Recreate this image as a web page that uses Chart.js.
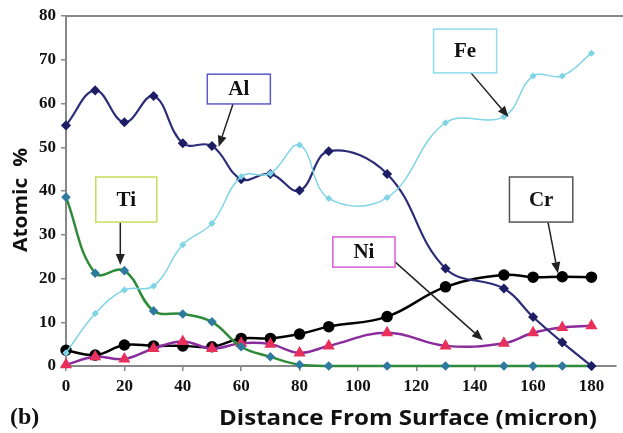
<!DOCTYPE html>
<html>
<head>
<meta charset="utf-8">
<script src="https://cdn.jsdelivr.net/npm/chart.js@4.4.0/dist/chart.umd.min.js"></script>
<style>
  html, body { margin: 0; padding: 0; background: #fff; }
  #wrap { width: 623px; height: 433px; position: relative; }
</style>
</head>
<body>
<div id="wrap"><canvas id="chart"></canvas></div>
<script>
// Distance from surface (micron) and atomic % of each element
const distance = [0, 10, 20, 30, 40, 50, 60, 70, 80, 90, 110, 130, 150, 160, 170, 180];
const al = [55, 63, 55.7, 61.7, 50.9, 50.3, 42.7, 43.9, 40.1, 49.1, 43.9, 22.3, 17.7, 11.2, 5.4, 0];
const fe = [3, 12, 17.4, 18.3, 27.7, 32.6, 43.3, 44, 50.5, 38.3, 38.5, 55.6, 57, 66.3, 66.3, 71.5];
const ti = [38.6, 21.2, 21.8, 12.6, 11.9, 10.1, 4.4, 2.1, 0.3, 0, 0, 0, 0, 0, 0, 0];
const cr = [3.6, 2.5, 4.8, 4.6, 4.6, 4.4, 6.3, 6.3, 7.3, 9.0, 11.3, 18.1, 20.8, 20.3, 20.4, 20.3];
const ni = [0.3, 2.1, 1.6, 4.0, 5.6, 4.0, 5.2, 5.0, 3.0, 4.6, 7.6, 4.6, 5.2, 7.6, 8.8, 9.2];

const xTicks = [0, 20, 40, 60, 80, 100, 120, 140, 160, 180];
const yTicks = [0, 10, 20, 30, 40, 50, 60, 70, 80];

// Callout boxes (data units): box corners, arrow start and end, border colour
const callouts = [
  { text: 'Al', x1: 48.4, x2: 70.0, y1: 66.7, y2: 59.9, from: [57.2, 59.9], to: [52.3, 50.1], color: '#5a5acd' },
  { text: 'Fe', x1: 125.9, x2: 147.5, y1: 77.0, y2: 67.0, from: [138.7, 67.0], to: [151.6, 56.9], color: '#8edcec' },
  { text: 'Ti', x1: 10.2, x2: 31.1, y1: 43.2, y2: 32.9, from: [18.6, 32.9], to: [18.6, 23.1], color: '#c9dc5c' },
  { text: 'Ni', x1: 91.4, x2: 112.7, y1: 29.5, y2: 22.6, from: [112.7, 23.8], to: [142.8, 5.9], color: '#d65ed6' },
  { text: 'Cr', x1: 151.9, x2: 173.6, y1: 43.2, y2: 32.9, from: [165.1, 32.9], to: [168.5, 21.2], color: '#555555' }
];

function pts(values) {
  return distance.map((d, i) => ({ x: d, y: values[i] }));
}

const serifBold = { family: '"Liberation Serif", "DejaVu Serif", serif', weight: 'bold', size: 17 };

// draw text stretched horizontally to a target width
function fitText(ctx, text, cx, cy, width) {
  const w = ctx.measureText(text).width;
  ctx.save();
  ctx.translate(cx, cy);
  ctx.scale(width / w, 1);
  ctx.textAlign = 'center';
  ctx.fillText(text, 0, 0);
  ctx.restore();
}

const extrasPlugin = {
  id: 'extras',
  afterDatasetsDraw(chart) {
    const { ctx, chartArea, scales: { x, y } } = chart;
    ctx.save();
    // top border of plot
    ctx.strokeStyle = '#888';
    ctx.lineWidth = 2;
    ctx.beginPath();
    ctx.moveTo(chartArea.left, chartArea.top);
    ctx.lineTo(chart.width, chartArea.top);
    ctx.stroke();

    callouts.forEach(c => {
      const fx = x.getPixelForValue(c.from[0]), fy = y.getPixelForValue(c.from[1]);
      const tx = x.getPixelForValue(c.to[0]), ty = y.getPixelForValue(c.to[1]);
      ctx.strokeStyle = '#222';
      ctx.fillStyle = '#222';
      ctx.lineWidth = 1.5;
      const ang = Math.atan2(ty - fy, tx - fx);
      const head = 11, half = 4.5;
      const bx = tx - head * Math.cos(ang), by = ty - head * Math.sin(ang);
      ctx.beginPath();
      ctx.moveTo(fx, fy);
      ctx.lineTo(bx, by);
      ctx.stroke();
      ctx.beginPath();
      ctx.moveTo(tx, ty);
      ctx.lineTo(bx + half * Math.sin(ang), by - half * Math.cos(ang));
      ctx.lineTo(bx - half * Math.sin(ang), by + half * Math.cos(ang));
      ctx.closePath();
      ctx.fill();

      const l = x.getPixelForValue(c.x1), r = x.getPixelForValue(c.x2);
      const t = y.getPixelForValue(c.y1), b = y.getPixelForValue(c.y2);
      ctx.fillStyle = '#fff';
      ctx.fillRect(l, t, r - l, b - t);
      ctx.strokeStyle = c.color;
      ctx.lineWidth = 1.5;
      ctx.strokeRect(l, t, r - l, b - t);
      ctx.fillStyle = '#111';
      ctx.font = 'bold 21px "Liberation Serif", serif';
      ctx.textAlign = 'center';
      ctx.textBaseline = 'middle';
      ctx.fillText(c.text, (l + r) / 2, (t + b) / 2 + 1);
    });
    ctx.restore();
  },
  afterDraw(chart) {
    const { ctx } = chart;
    ctx.save();
    ctx.fillStyle = '#111';
    ctx.textBaseline = 'alphabetic';
    // x axis title
    ctx.font = 'bold 22px "Open Sans", sans-serif';
    fitText(ctx, 'Distance From Surface (micron)', 408, 425, 378);
    // panel label
    ctx.font = 'bold 24px "Liberation Serif", serif';
    ctx.textAlign = 'left';
    ctx.fillText('(b)', 10, 424);
    // y axis title
    ctx.translate(27, 200);
    ctx.rotate(-Math.PI / 2);
    ctx.font = 'bold 19px "Open Sans", sans-serif';
    fitText(ctx, 'Atomic  %', 0, 0, 104);
    ctx.restore();
  }
};

const base = { showLine: true, tension: 0.4, clip: 6, borderWidth: 2.2 };

new Chart(document.getElementById('chart'), {
  type: 'scatter',
  data: {
    datasets: [
      Object.assign({}, base, { label: 'Fe', data: pts(fe), borderColor: '#7fd4e6', borderWidth: 1.5,
        pointStyle: 'rectRot', pointRadius: 2.5, pointBackgroundColor: '#7fd4e6', pointBorderColor: '#7fd4e6' }),
      Object.assign({}, base, { label: 'Al', data: pts(al), borderColor: '#2c2c78',
        pointStyle: 'rectRot', pointRadius: 3.5, pointBackgroundColor: '#1e1e66', pointBorderColor: '#1e1e66' }),
      Object.assign({}, base, { label: 'Ti', data: pts(ti), borderColor: '#2f8a3a', borderWidth: 2.5,
        pointStyle: 'rectRot', pointRadius: 3, pointBackgroundColor: '#2f7aa0', pointBorderColor: '#2f7aa0' }),
      Object.assign({}, base, { label: 'Ni', data: pts(ni), borderColor: '#8a2c9c', borderWidth: 2.5,
        pointStyle: 'triangle', pointRadius: 4.5, pointBackgroundColor: '#e8305a', pointBorderColor: '#e8305a' }),
      Object.assign({}, base, { label: 'Cr', data: pts(cr), borderColor: '#000', borderWidth: 2.5,
        pointStyle: 'circle', pointRadius: 4.5, pointBackgroundColor: '#000', pointBorderColor: '#000' })
    ]
  },
  options: {
    responsive: true,
    maintainAspectRatio: false,
    animation: false,
    events: [],
    layout: { padding: { top: 16, left: 0, right: 0, bottom: 0 } },
    plugins: { legend: { display: false }, tooltip: { enabled: false } },
    scales: {
      x: {
        type: 'linear',
        min: 0,
        max: 188.4,
        afterFit: s => { s.height = 67; },
        afterBuildTicks: s => { s.ticks = xTicks.map(v => ({ value: v })); },
        ticks: { font: serifBold, color: '#111', padding: 5, maxRotation: 0 },
        grid: { drawOnChartArea: false, tickLength: 5, color: '#888', lineWidth: 1.5 },
        border: { color: '#888', width: 2 }
      },
      y: {
        min: 0,
        max: 80,
        afterFit: s => { s.width = 66; },
        afterBuildTicks: s => { s.ticks = yTicks.map(v => ({ value: v })); },
        ticks: { font: serifBold, color: '#111', padding: 5 },
        grid: { drawOnChartArea: false, tickLength: 5, color: '#888', lineWidth: 1.5 },
        border: { color: '#888', width: 2 }
      }
    }
  },
  plugins: [extrasPlugin]
});
</script>
</body>
</html>
